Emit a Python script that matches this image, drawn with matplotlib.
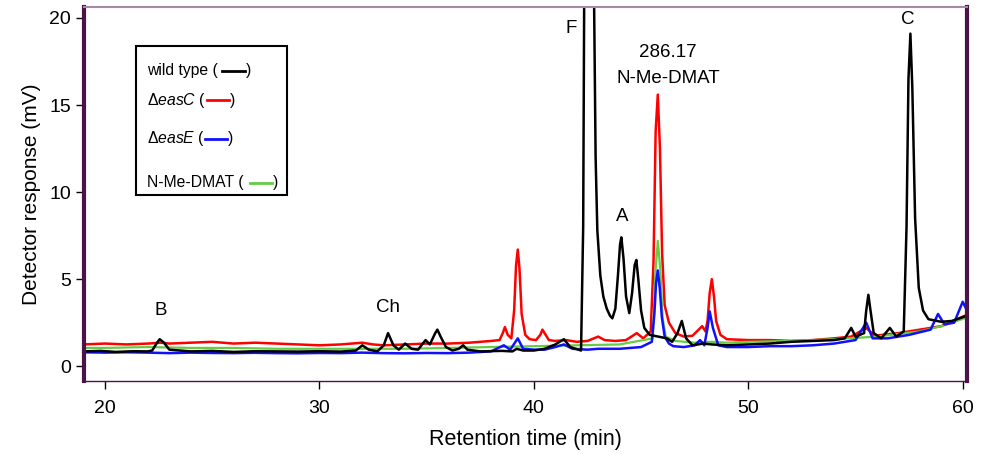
import matplotlib
matplotlib.use("Agg")
import matplotlib.pyplot as plt
from matplotlib.patches import Rectangle

plt.rcParams["font.family"] = ["Liberation Sans", "DejaVu Sans"]
plt.rcParams["mathtext.fontset"] = "custom"
plt.rcParams["mathtext.rm"] = "Liberation Sans"
plt.rcParams["mathtext.it"] = "Liberation Sans:italic"

# wild type (black)
wt_t = [19.0, 19.8, 20.5, 21.3, 22.0, 22.2, 22.4, 22.55, 22.75, 23.0, 24.0, 25.0, 26.0,
        27.0, 28.0, 29.0, 30.0, 31.0, 31.7, 32.0, 32.3, 32.7, 33.0, 33.2, 33.45, 33.7,
        34.0, 34.3, 34.6, 34.95, 35.15, 35.4, 35.5, 35.65, 35.9, 36.2, 36.5, 36.7, 36.9,
        37.5, 38.5, 39.0, 39.2, 39.5, 40.0, 40.5, 41.0, 41.4, 41.7, 42.2, 42.3, 42.35,
        42.8, 42.88, 42.96, 43.1, 43.24, 43.4, 43.55, 43.66, 43.8, 43.92, 44.02, 44.08,
        44.18, 44.3, 44.45, 44.58, 44.7, 44.78, 44.87, 45.0, 45.15, 45.4, 45.8, 46.2,
        46.45, 46.7, 46.9, 47.1, 47.4, 47.9, 48.3, 49.0, 50.0, 51.0, 52.0, 53.0, 54.0,
        54.5, 54.8, 55.0, 55.4, 55.5, 55.6, 55.7, 55.85, 56.2, 56.6, 56.9, 57.25, 57.38,
        57.47, 57.56, 57.65, 57.78, 57.95, 58.15, 58.4, 59.0, 59.5, 60.2]
wt_v = [0.85, 0.88, 0.82, 0.86, 0.85, 0.9, 1.3, 1.55, 1.35, 0.95, 0.85, 0.88, 0.82,
        0.86, 0.85, 0.84, 0.86, 0.84, 0.9, 1.2, 0.95, 0.85, 1.2, 1.9, 1.2, 0.95,
        1.3, 1.0, 0.95, 1.5, 1.25, 1.9, 2.1, 1.7, 1.1, 0.9, 1.0, 1.2, 0.95,
        0.85, 0.88, 0.85, 1.0, 0.9, 0.9, 1.0, 1.25, 1.55, 1.1, 0.9, 8.0, 22.0,
        22.0, 12.0, 7.8, 5.2, 4.0, 3.3, 2.9, 2.75, 3.3, 5.2, 7.0, 7.4,
        6.2, 4.0, 3.05, 4.2, 5.8, 6.1, 5.0, 3.2, 2.2, 1.8, 1.7, 1.6,
        1.4, 1.9, 2.6, 1.6, 1.2, 1.3, 1.25, 1.2, 1.25, 1.3, 1.4, 1.45, 1.5,
        1.6, 2.2, 1.7, 1.9, 3.2, 4.1, 3.2, 1.9, 1.6, 2.2, 1.7, 2.0, 8.0,
        16.5, 19.1, 16.0, 8.5, 4.5, 3.2, 2.7, 2.55, 2.6, 2.9]

# delta easC (red)
easc_t = [19.0, 20.0, 21.0, 22.0, 22.6, 23.0, 24.0, 25.0, 26.0, 27.0, 28.0, 29.0, 30.0,
          31.0, 32.0, 32.5, 33.0, 34.0, 35.0, 36.0, 37.0, 38.0, 38.4, 38.55, 38.65, 38.78,
          38.95, 39.08, 39.17, 39.25, 39.33, 39.43, 39.6, 39.8, 40.1, 40.3, 40.4, 40.5,
          40.7, 41.0, 41.5, 42.0, 42.5, 43.0, 43.3, 43.8, 44.3, 44.8, 45.1, 45.45, 45.58,
          45.68, 45.78, 45.88, 45.98, 46.1, 46.3, 46.6, 47.0, 47.4, 47.85, 48.0, 48.1, 48.2,
          48.3, 48.4, 48.5, 48.7, 49.0, 50.0, 51.0, 52.0, 53.0, 54.0, 54.8, 55.5, 55.9,
          57.0, 58.0, 59.0, 60.2]
easc_v = [1.25, 1.3, 1.25, 1.3, 1.35, 1.3, 1.35, 1.4, 1.3, 1.35, 1.3, 1.25, 1.2,
          1.25, 1.35, 1.25, 1.2, 1.25, 1.3, 1.3, 1.35, 1.45, 1.5, 1.9, 2.25, 1.8,
          1.6, 3.2, 5.8, 6.7, 5.6, 3.0, 1.8, 1.55, 1.5, 1.8, 2.1, 1.9,
          1.5, 1.45, 1.5, 1.4, 1.45, 1.7, 1.5, 1.45, 1.5, 1.9, 1.6, 2.0, 6.0,
          13.5, 15.6, 12.5, 6.5, 3.5, 2.5, 1.9, 1.7, 1.75, 2.3, 2.0, 2.6, 4.2,
          5.0, 4.0, 2.6, 1.8, 1.55, 1.5, 1.5, 1.45, 1.5, 1.6, 1.7, 2.2, 1.75,
          1.9, 2.1, 2.3, 2.95]

# delta easE (blue)
ease_t = [19.0, 20.0, 21.0, 22.0, 23.0, 24.0, 25.0, 26.0, 27.0, 28.0, 29.0, 30.0, 31.0,
          32.0, 33.0, 34.0, 35.0, 36.0, 37.0, 38.0, 38.6, 38.9, 39.25, 39.5, 40.0, 40.5,
          41.0, 41.4, 41.8, 42.5, 43.0, 44.0, 45.0, 45.5, 45.62, 45.7, 45.78, 45.87, 45.97,
          46.1, 46.3, 46.5, 47.0, 47.5, 47.75, 47.95, 48.1, 48.2, 48.35, 48.6, 49.0, 50.0,
          51.0, 52.0, 53.0, 54.0, 55.0, 55.5, 55.8, 56.5, 57.5, 58.5, 58.85, 59.15, 59.6,
          60.0, 60.2]
ease_v = [0.8, 0.78, 0.8, 0.78, 0.75, 0.78, 0.76, 0.75, 0.77, 0.75, 0.74, 0.76, 0.75,
          0.78, 0.75, 0.74, 0.76, 0.75, 0.78, 0.85, 1.2, 0.95, 1.6, 1.0, 0.95, 0.95,
          1.1, 1.25, 1.0, 0.95, 1.0, 1.0, 1.1, 1.4, 3.0, 4.8, 5.5, 4.5, 2.8,
          1.7, 1.3, 1.15, 1.1, 1.2, 1.5, 1.2, 2.2, 3.15, 2.2, 1.2, 1.1, 1.1,
          1.15, 1.15, 1.2, 1.3, 1.5, 2.5, 1.6, 1.6, 1.8, 2.1, 3.0, 2.4, 2.5,
          3.7, 3.2]

# N-Me-DMAT standard (green)
std_t = [19.0, 20.0, 22.0, 24.0, 26.0, 28.0, 30.0, 32.0, 34.0, 36.0, 38.0, 40.0, 42.0,
         44.0, 45.55, 45.66, 45.78, 45.9, 46.0, 46.15, 46.6, 47.5, 48.3, 49.0, 50.0, 52.0,
         54.0, 56.0, 58.0, 59.0, 60.2]
std_v = [1.05, 1.05, 1.1, 1.05, 1.05, 1.0, 1.0, 1.0, 1.0, 1.05, 1.1, 1.15, 1.2,
         1.25, 1.6, 5.2, 7.2, 5.5, 2.8, 1.7, 1.45, 1.35, 1.4, 1.35, 1.4, 1.45,
         1.55, 1.7, 2.0, 2.3, 2.8]

peak_labels = ["B", "Ch", "F", "A", "C"]
peak_x = [22.6, 33.2, 41.75, 44.1, 57.45]
peak_y = [3.2, 3.4, 19.4, 8.6, 19.9]

fig = plt.figure(figsize=(9.86, 4.54), dpi=100)
ax = fig.add_axes([84 / 986, 73 / 454, 883 / 986, 374 / 454])

ax.plot(easc_t, easc_v, color="#ff0000", lw=1.8)
ax.plot(std_t, std_v, color="#66cc44", lw=1.6)
ax.plot(ease_t, ease_v, color="#1010ff", lw=1.8)
ax.plot(wt_t, wt_v, color="black", lw=1.8)

for s, x, y in zip(peak_labels, peak_x, peak_y):
    ax.text(x, y, s, ha="center", va="center", fontsize=13.5)
ax.text(46.25, 18.0, "286.17", ha="center", va="center", fontsize=13.5)
ax.text(46.25, 16.55, "N-Me-DMAT", ha="center", va="center", fontsize=13.5)

ax.set_xlim(19.02, 60.2)
ax.set_ylim(-0.85, 20.63)
ax.set_xticks([20, 30, 40, 50, 60])
ax.set_yticks([0, 5, 10, 15, 20])
ax.tick_params(direction="out", length=6, width=1, labelsize=14, color="black")
ax.tick_params(axis="x", pad=8)
ax.tick_params(top=False, right=False)
ax.set_xlabel("Retention time (min)", fontsize=15.5, labelpad=8)
ax.set_ylabel("Detector response (mV)", fontsize=15, labelpad=6)

for side in ["left", "right"]:
    ax.spines[side].set_color("#4a1448")
    ax.spines[side].set_linewidth(3.0)
ax.spines["top"].set_color("#a888a8")
ax.spines["top"].set_linewidth(1.5)
ax.spines["bottom"].set_color("#4a1448")
ax.spines["bottom"].set_linewidth(1.0)


# legend drawn by hand, positions in pixels of the 986x454 figure
def fx(px):
    return (px - 84) / 883


def fy(py):
    return (381 - py) / 374


ax.add_patch(Rectangle((fx(136), fy(195)), fx(287) - fx(136), fy(46) - fy(195),
                       transform=ax.transAxes, fill=False, ec="black", lw=1.5))
leg_text = ["wild type (", r"$\Delta\mathit{easC}$ (", r"$\Delta\mathit{easE}$ (", "N-Me-DMAT ("]
leg_col = ["black", "#ff0000", "#1010ff", "#66cc44"]
leg_y = [71, 100, 139, 183]
leg_l0 = [222, 207, 205, 250]
leg_l1 = [245, 229, 227, 272]
for s, c, y, a, b in zip(leg_text, leg_col, leg_y, leg_l0, leg_l1):
    ax.text(fx(147), fy(y), s, transform=ax.transAxes, ha="left", va="center", fontsize=11.3)
    ax.plot([fx(a), fx(b)], [fy(y), fy(y)], transform=ax.transAxes, color=c, lw=2)
    ax.text(fx(b + 1), fy(y), ")", transform=ax.transAxes, ha="left", va="center", fontsize=11.3)

fig.savefig("out.png", dpi=100)
